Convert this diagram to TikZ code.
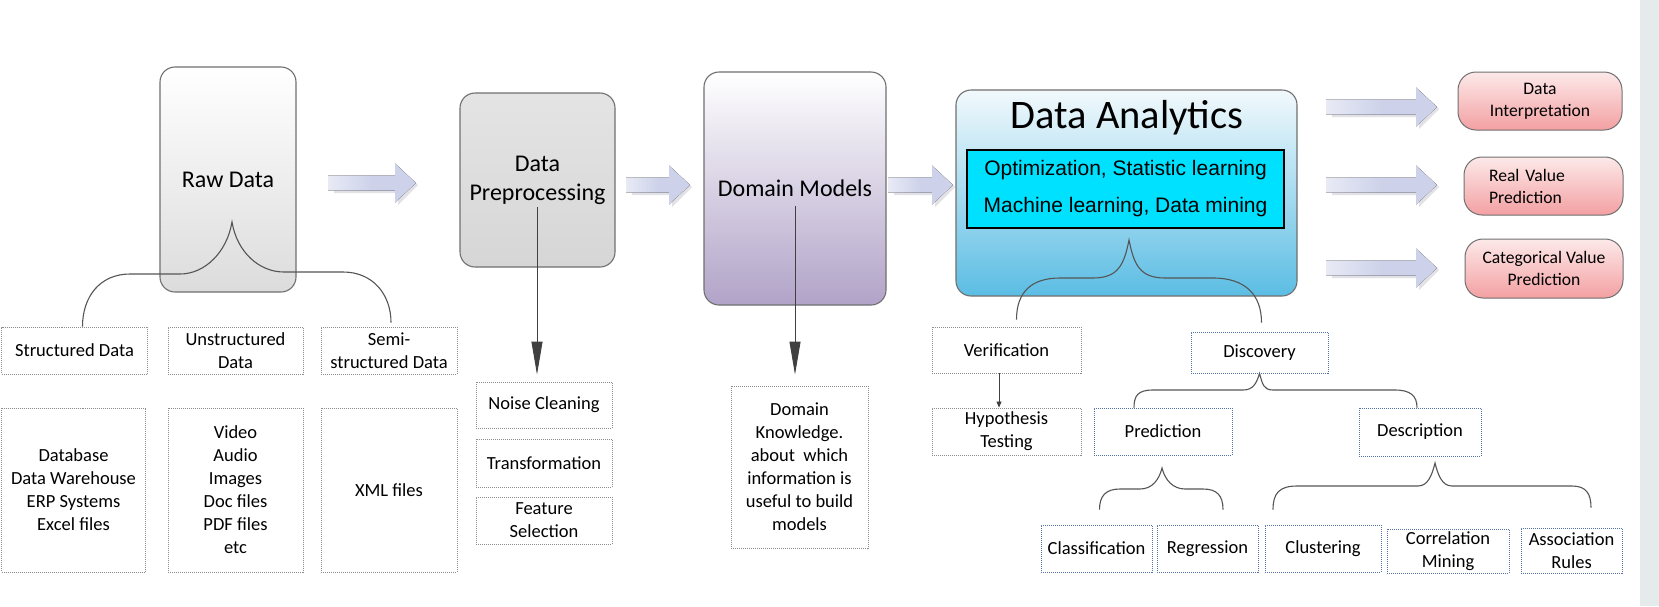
\documentclass[tikz,border=0pt]{standalone}
\usepackage{fontspec}
\setmainfont{Carlito}
\newfontfamily\arialfont{Liberation Sans}
\usepackage{tikz}
\usetikzlibrary{arrows.meta}

\definecolor{edgegray}{HTML}{707070}
\definecolor{rawbot}{HTML}{DCDCDC}
\definecolor{dptop}{HTML}{E4E4E4}
\definecolor{dpbot}{HTML}{D6D6D6}
\definecolor{dmbot}{HTML}{B1A3C8}
\definecolor{datop}{HTML}{F2F9FC}
\definecolor{dabot}{HTML}{5BBDE4}
\definecolor{innercyan}{HTML}{00E1FF}
\definecolor{outtop}{HTML}{FDE9E9}
\definecolor{outbot}{HTML}{F3A0A2}
\definecolor{dotgray}{HTML}{8C8C8C}
\definecolor{dotblue}{HTML}{5573A8}
\definecolor{bracegray}{HTML}{555555}
\definecolor{arrowlight}{HTML}{E8EAF5}
\definecolor{arrowdark}{HTML}{CDD2EA}
\definecolor{arrowshade}{HTML}{E2E2E6}
\definecolor{stripgray}{HTML}{E5EBEA}

\tikzset{
  bigbox/.style={draw=edgegray, line width=1.1pt, rounded corners=15pt, align=center, inner sep=0pt, font=\fontsize{24}{29}\selectfont},
  dotbox/.style={draw=dotgray, line width=0.9pt, dash pattern=on 1pt off 1pt, align=center, inner sep=0pt, font=\fontsize{18.5}{23}\selectfont},
  bluebox/.style={dotbox, draw=dotblue},
  outbox/.style={draw=edgegray, line width=1pt, rounded corners=18pt, top color=outtop, bottom color=outbot, align=center, inner sep=0pt, font=\fontsize{17.6}{22}\selectfont},
  brace/.style={draw=bracegray, line width=1.1pt},
  downarrow/.style={draw=black!75, line width=0.9pt, -{Triangle[length=33pt,width=11pt]}},
  blockarrow/.style={left color=arrowlight, right color=arrowdark, middle color=arrowdark},
}

\begin{document}
\begin{tikzpicture}[x=1pt, y=-1pt]
    \fill[white] (0,0) rectangle (1659,606);
    \useasboundingbox (0,0) rectangle (1659,606);
    \fill[stripgray] (1640,0) rectangle (1659,606);

    % raw data
    \node[bigbox, top color=white, bottom color=rawbot, minimum width=136pt, minimum height=225pt] (rd) at (228,179.5) {Raw Data};
    \node[dotbox, minimum width=146pt, minimum height=47pt] (sd) at (74.5,350.5) {Structured Data};
    \node[dotbox, minimum width=135pt, minimum height=47pt] (ud) at (235.5,350.5) {Unstructured\\Data};
    \node[dotbox, minimum width=136pt, minimum height=47pt] (ssd) at (389,350.5) {Semi-\\structured Data};
    \node[dotbox, minimum width=144pt, minimum height=164pt] (sdx) at (73.5,490) {Database\\Data Warehouse\\ERP Systems\\Excel files};
    \node[dotbox, minimum width=135pt, minimum height=164pt] (udx) at (235.5,490) {Video\\Audio\\Images\\Doc files\\PDF files\\etc};
    \node[dotbox, minimum width=136pt, minimum height=164pt] (ssdx) at (389,490) {XML files};

    % preprocessing
    \node[bigbox, top color=dptop, bottom color=dpbot, minimum width=155pt, minimum height=174pt] (dp) at (537.5,180) {Data\\Preprocessing};
    \node[dotbox, minimum width=136pt, minimum height=46pt] (nc) at (544,405) {Noise Cleaning};
    \node[dotbox, minimum width=136pt, minimum height=48pt] (tf) at (544,463) {Transformation};
    \node[dotbox, minimum width=136pt, minimum height=47pt] (fs) at (544,520.5) {Feature\\Selection};

    % domain models
    \node[bigbox, top color=white, bottom color=dmbot, minimum width=182pt, minimum height=233pt] (dm) at (795,188.5) {Domain Models};
    \node[dotbox, minimum width=137pt, minimum height=162pt] (dk) at (799.5,467) {Domain\\Knowledge.\\about\ \ which\\information is\\useful to build\\models};

    % data analytics
    \node[bigbox, top color=datop, bottom color=dabot, minimum width=341pt, minimum height=206pt] (da) at (1126.5,193) {};
    \node[anchor=base, font=\fontsize{40.5}{48}\selectfont] (dat) at (1127,128) {Data Analytics};
    \node[draw=black, line width=1.5pt, fill=innercyan, minimum width=317pt, minimum height=78pt, align=center, inner sep=0pt,
          font=\arialfont\fontsize{21}{37}\selectfont] (ml) at (1125.5,189) {Optimization, Statistic learning\\Machine learning, Data mining};

    \node[dotbox, minimum width=149pt, minimum height=46pt] (ver) at (1006.5,350) {Verification};
    \node[dotbox, minimum width=149pt, minimum height=47pt] (hyp) at (1006.5,431.5) {Hypothesis\\Testing};
    \node[bluebox, minimum width=137pt, minimum height=41pt] (disc) at (1259.5,352.5) {Discovery};
    \node[bluebox, minimum width=138pt, minimum height=47pt] (pred) at (1163,431.5) {Prediction};
    \node[bluebox, minimum width=122pt, minimum height=48pt] (desc) at (1420,432) {Description};
    \node[bluebox, minimum width=111pt, minimum height=47pt] (cls) at (1096.5,548.5) {Classification};
    \node[bluebox, minimum width=101pt, minimum height=47pt] (reg) at (1207.5,548.5) {Regression};
    \node[bluebox, minimum width=116pt, minimum height=47pt] (clu) at (1323,548.5) {Clustering};
    \node[bluebox, minimum width=122pt, minimum height=44pt] (cor) at (1448,551) {Correlation\\Mining};
    \node[bluebox, minimum width=101pt, minimum height=45pt] (asr) at (1571.5,550.5) {Association\\Rules};

    % results
    \node[outbox, minimum width=164pt, minimum height=58pt] (di) at (1540,101) {Data\\Interpretation};
    \node[outbox, minimum width=159pt, minimum height=58pt, text width=109pt, align=left] (rv) at (1543.5,186) {Real Value\\Prediction};
    \node[outbox, minimum width=158pt, minimum height=59pt] (cv) at (1544,268.5) {Categorical Value\\Prediction};

    \foreach \xa/\xb/\yc in {328/416/183, 626/690/185, 888/953/185, 1326/1437/107, 1326/1437/185, 1326/1437/268}{
        \fill[arrowshade] (\xa+6,\yc-5) -- (\xb-18,\yc-5) -- (\xb-18,\yc-17) -- (\xb+2,\yc+2) -- (\xb-18,\yc+22) -- (\xb-18,\yc+10) -- (\xa+6,\yc+10) -- cycle;
        \fill[blockarrow] (\xa,\yc-7.5) -- (\xb-21,\yc-7.5) -- (\xb-21,\yc-19.5) -- (\xb,\yc) -- (\xb-21,\yc+19.5) -- (\xb-21,\yc+7.5) -- (\xa,\yc+7.5) -- cycle;
    }

    \coordinate (dpl) at (537,207);
    \coordinate (dml) at (795,206);
    \draw[downarrow, shorten >=7pt] (dpl) -- (dpl |- nc.north);
    \draw[downarrow, shorten >=11pt] (dml) -- (dml |- dk.north);
    \draw[draw=black!75, line width=0.8pt, -{Triangle[length=6pt,width=5pt]}] ([xshift=-7.5]ver.south) -- ([xshift=-7.5]hyp.north);

    % braces
    \coordinate (rdtip) at (232,222);
    \coordinate (datip) at (1129,240);
    \coordinate (predtip) at (1162,468);
    \coordinate (desctip) at (1435,463);
    \draw[brace] ([xshift=8]sd.north) .. controls +(0,-30) and +(-30,0) .. (130,274) -- (180,274) .. controls +(25,0) and +(-5,30) .. (rdtip)
                 .. controls +(5,30) and +(-25,0) .. (284,272) -- (343,272) .. controls +(30,0) and +(0,-28) .. ([shift={(2,-4)}]ssd.north);
    \draw[brace] ([shift={(10,-7)}]ver.north) .. controls +(0,-28) and +(-28,0) .. (1060,278) -- (1093,278) .. controls +(25,0) and +(-5,25) .. (datip)
                 .. controls +(5,25) and +(-25,0) .. (1165,278) -- (1213,278) .. controls +(32,0) and +(0,-28) .. ([shift={(2,-9)}]disc.north);
    \draw[brace] ([xshift=-29]pred.north) .. controls +(0,-12) and +(-15,0) .. (1153,390) -- (1243,390) .. controls +(10,0) and +(-3,10) .. (disc.south)
                 .. controls +(3,10) and +(-10,0) .. (1273,390) -- (1395,390) .. controls +(15,0) and +(0,-12) .. ([xshift=-3]desc.north);
    \draw[brace] ([shift={(3,-15)}]cls.north) .. controls +(0,-14) and +(-14,0) .. (1120,489) -- (1140,489) .. controls +(12,0) and +(-3,12) .. (predtip)
                 .. controls +(3,12) and +(-12,0) .. (1185,489) -- (1203,489) .. controls +(14,0) and +(0,-14) .. ([shift={(15.5,-15)}]reg.north);
    \draw[brace] ([shift={(-50,-15)}]clu.north) .. controls +(0,-16) and +(-18,0) .. (1297,486) -- (1418,486) .. controls +(10,0) and +(-3,12) .. (desctip)
                 .. controls +(3,12) and +(-10,0) .. (1452,486) -- (1572,486) .. controls +(14,0) and +(0,-14) .. ([shift={(19.5,-20)}]asr.north);
\end{tikzpicture}
\end{document}
